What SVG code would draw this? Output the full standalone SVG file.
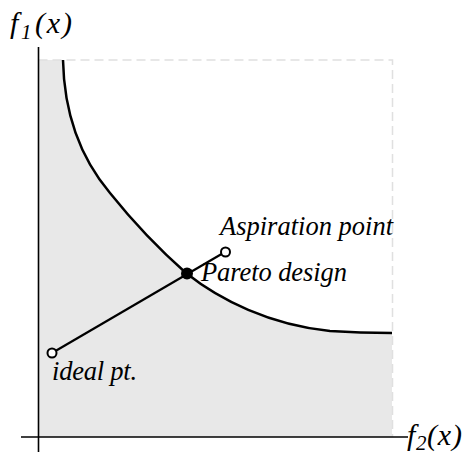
<svg xmlns="http://www.w3.org/2000/svg" width="471" height="452" viewBox="0 0 471 452">
<style>
text{font-family:'Liberation Serif','Times New Roman',serif;font-style:italic;fill:#000}
.axis{stroke:#000;stroke-width:1.6;fill:none}
.dash{stroke:#e0e0e0;stroke-width:1.5;stroke-dasharray:9,5;fill:none}
.open{fill:#fff;stroke:#000;stroke-width:2}
</style>
<rect width="471" height="452" fill="#fff"/>
<g id="region">
<path d="M38.5,60 L63,60 C64,110 78,155 110,193 C130,218 160,250 186,273 C220,300 270,325 330,331 C360,333 380,333 392,333 L392,437 L38.5,437 Z" fill="#e8e8e8"/>
<path class="dash" d="M38.5,60 H392.5 V437"/>
</g>
<g id="axes">
<line class="axis" x1="38.5" y1="47" x2="38.5" y2="452"/>
<line class="axis" x1="21" y1="437" x2="408" y2="437"/>
<text font-size="30"><tspan x="10" y="33">f</tspan><tspan x="21" y="39" font-size="21">1</tspan><tspan x="35" y="33" textLength="37">(x)</tspan></text>
<text font-size="30"><tspan x="407" y="445">f</tspan><tspan x="416" y="450" font-size="21">2</tspan><tspan x="427" y="445" textLength="35">(x)</tspan></text>
</g>
<g id="pareto-front">
<path d="M63,60 C64,110 78,155 110,193 C130,218 160,250 186,273 C220,300 270,325 330,331 C360,333 380,333 392,333" fill="none" stroke="#000" stroke-width="2.5"/>
</g>
<g id="connectors">
<line x1="52" y1="353" x2="225" y2="252" stroke="#000" stroke-width="2.2"/>
</g>
<g id="ideal">
<circle class="open" cx="52" cy="353" r="4.5"/>
<text x="52" y="380" font-size="26.5" textLength="85">ideal pt.</text>
</g>
<g id="aspiration">
<circle class="open" cx="225.5" cy="252" r="4.5"/>
<text x="220" y="235" font-size="26.5" textLength="173">Aspiration point</text>
</g>
<g id="pareto-design">
<circle cx="187" cy="273.5" r="6" fill="#000"/>
<text x="201" y="281" font-size="26.5" textLength="146">Pareto design</text>
</g>
</svg>
